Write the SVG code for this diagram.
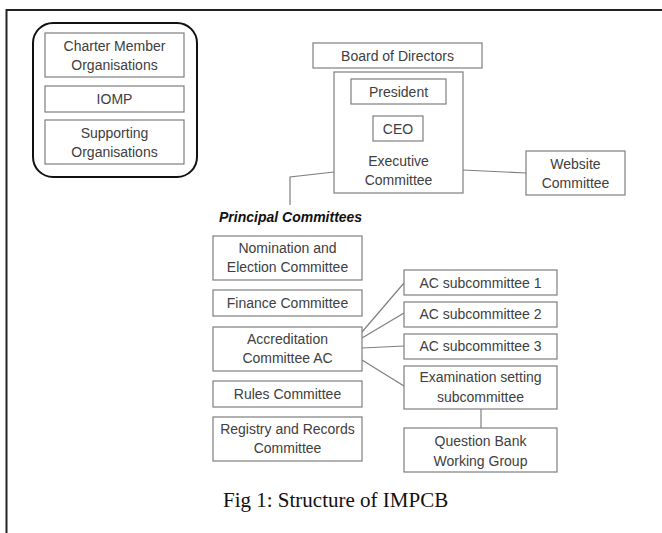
<svg xmlns="http://www.w3.org/2000/svg" width="662" height="533" viewBox="0 0 662 533">
<style>
.box{fill:#fff;stroke:#7f7f7f;stroke-width:1.2}
.t{font-family:"Liberation Sans",Arial,sans-serif;font-size:14px;fill:#404040;text-anchor:middle}
.c{stroke:#7f7f7f;stroke-width:1.2;fill:none}
</style>
<rect width="662" height="533" fill="#fff"/>
<path d="M6.5 533 V10 H662" fill="none" stroke="#222" stroke-width="2"/>
<g id="connectors">
<polyline class="c" points="334,172 290,177 290,205"/>
<line class="c" x1="463" y1="170" x2="526" y2="173"/>
<line class="c" x1="362" y1="332" x2="404" y2="283"/>
<line class="c" x1="362" y1="338" x2="404" y2="313"/>
<line class="c" x1="362" y1="348" x2="404" y2="346"/>
<line class="c" x1="362" y1="360" x2="404" y2="386"/>
<line class="c" x1="481" y1="409" x2="481" y2="428"/>
</g>
<g id="members">
<rect x="33" y="23" width="164" height="154" rx="20" fill="#fff" stroke="#111" stroke-width="2"/>
</g>
<g id="charter"><rect class="box" x="45" y="33" width="139" height="44"/><text class="t" x="114.5" y="51">Charter Member</text><text class="t" x="114.5" y="70">Organisations</text></g>
<g id="iomp"><rect class="box" x="45" y="86" width="139" height="26"/><text class="t" x="114.5" y="104">IOMP</text></g>
<g id="supporting"><rect class="box" x="45" y="120" width="139" height="44"/><text class="t" x="114.5" y="138">Supporting</text><text class="t" x="114.5" y="157">Organisations</text></g>
<g id="board"><rect class="box" x="313" y="43" width="169" height="25"/><text class="t" x="397.5" y="60.5">Board of Directors</text></g>
<g id="executive"><rect class="box" x="334" y="72" width="129" height="121"/><text class="t" x="398.5" y="166">Executive</text><text class="t" x="398.5" y="185">Committee</text></g>
<g id="president"><rect class="box" x="351" y="79" width="95" height="25"/><text class="t" x="398.5" y="96.5">President</text></g>
<g id="ceo"><rect class="box" x="373" y="116" width="50" height="25"/><text class="t" x="398" y="133.5">CEO</text></g>
<g id="website"><rect class="box" x="526" y="151" width="99" height="44"/><text class="t" x="575.5" y="169">Website</text><text class="t" x="575.5" y="188">Committee</text></g>
<g id="principal"><text x="219" y="222" font-family="'Liberation Sans',Arial,sans-serif" font-size="14" font-weight="bold" font-style="italic" fill="#111">Principal Committees</text></g>
<g id="nomination"><rect class="box" x="213" y="236" width="149" height="44"/><text class="t" x="287.5" y="253">Nomination and</text><text class="t" x="287.5" y="272">Election Committee</text></g>
<g id="finance"><rect class="box" x="213" y="290" width="149" height="26"/><text class="t" x="287.5" y="308">Finance Committee</text></g>
<g id="accreditation"><rect class="box" x="213" y="327" width="149" height="44"/><text class="t" x="287.5" y="344">Accreditation</text><text class="t" x="287.5" y="363">Committee AC</text></g>
<g id="rules"><rect class="box" x="213" y="381" width="149" height="26"/><text class="t" x="287.5" y="399">Rules Committee</text></g>
<g id="registry"><rect class="box" x="213" y="417" width="149" height="44"/><text class="t" x="287.5" y="434">Registry and Records</text><text class="t" x="287.5" y="453">Committee</text></g>
<g id="ac1"><rect class="box" x="404" y="270" width="153" height="25"/><text class="t" x="480.5" y="287.5">AC subcommittee 1</text></g>
<g id="ac2"><rect class="box" x="404" y="302" width="153" height="25"/><text class="t" x="480.5" y="319">AC subcommittee 2</text></g>
<g id="ac3"><rect class="box" x="404" y="334" width="153" height="25"/><text class="t" x="480.5" y="351">AC subcommittee 3</text></g>
<g id="exam"><rect class="box" x="404" y="366" width="153" height="43"/><text class="t" x="480.5" y="382">Examination setting</text><text class="t" x="480.5" y="401.5">subcommittee</text></g>
<g id="questionbank"><rect class="box" x="404" y="428" width="153" height="44"/><text class="t" x="480.5" y="446">Question Bank</text><text class="t" x="480.5" y="465.5">Working Group</text></g>
<text x="223" y="507" font-family="'Liberation Serif','Times New Roman',serif" font-size="21" fill="#111">Fig 1: Structure of IMPCB</text>
</svg>
